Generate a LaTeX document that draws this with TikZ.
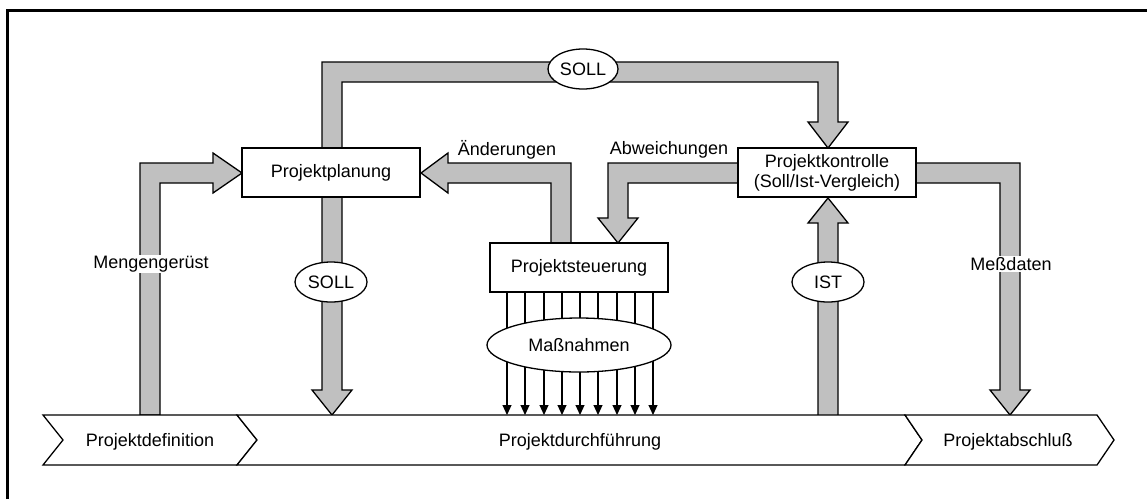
\documentclass[tikz,border=0pt]{standalone}
\usepackage{fontspec}
\setmainfont{Liberation Sans}
\usetikzlibrary{shapes.geometric,arrows.meta,calc}
\definecolor{band}{HTML}{C0C0C0}
\tikzset{
  fat/.style={fill=band,draw=black,line width=1.3pt,line join=miter},
  boxn/.style={draw=black,fill=white,line width=1.3pt,rectangle,inner sep=0pt,align=center},
  ell/.style={draw=black,fill=white,line width=1.3pt,ellipse,inner sep=0pt},
  phase/.style={draw=black,fill=white,line width=1.3pt,line join=miter},
  lbl/.style={inner sep=1pt,fill=white},
  thin/.style={line width=1.1pt,-{Triangle[width=9pt,length=10pt]}},
  every node/.style={font=\fontsize{18}{20}\selectfont}
}
\begin{document}
\begin{tikzpicture}[x=1pt,y=-1pt]
\useasboundingbox (0,0) rectangle (1147,499);
\draw[line width=3pt] (7,499) -- (7,10) -- (1147,10);

% fat arrows
\draw[fat] (140,415) -- (140,163) -- (213,163) -- (213,153) -- (242,173) -- (213,193) -- (213,183) -- (160,183) -- (160,415) -- cycle;
\draw[fat] (322,170) -- (322,62) -- (838,62) -- (838,122) -- (848,122) -- (828,148) -- (808,122) -- (818,122) -- (818,82) -- (342,82) -- (342,170) -- cycle;
\draw[fat] (322,190) -- (322,390) -- (312,390) -- (332,415) -- (352,390) -- (342,390) -- (342,190) -- cycle;
\draw[fat] (551,250) -- (551,183) -- (448,183) -- (448,193) -- (421,173) -- (448,153) -- (448,163) -- (571,163) -- (571,250) -- cycle;
\draw[fat] (740,163) -- (608,163) -- (608,218) -- (598,218) -- (618,243) -- (638,218) -- (628,218) -- (628,183) -- (740,183) -- cycle;
\draw[fat] (910,163) -- (1020,163) -- (1020,390) -- (1030,390) -- (1010,415) -- (990,390) -- (1000,390) -- (1000,183) -- (910,183) -- cycle;
\draw[fat] (818,420) -- (818,223) -- (808,223) -- (828,198) -- (848,223) -- (838,223) -- (838,420) -- cycle;

% boxes
\node[boxn,minimum width=178pt,minimum height=49pt] (plan) at (331,172.5) {Projektplanung};
\node[boxn,minimum width=178pt,minimum height=49pt] (kontr) at (827,172.5) {Projektkontrolle\\(Soll/Ist-Vergleich)};
\node[boxn,minimum width=178pt,minimum height=49pt] (steu) at (579,267.5) {Projektsteuerung};

% phases
\draw[phase] (43,415) -- (237,415) -- (257,440) -- (237,465) -- (43,465) -- (63,440) -- cycle;
\draw[phase] (237,415) -- (905,415) -- (922,440) -- (905,465) -- (237,465) -- (257,440) -- cycle;
\draw[phase] (905,415) -- (1097,415) -- (1114,440) -- (1097,465) -- (905,465) -- (922,440) -- cycle;
\node (def) at (150,442) {Projektdefinition};
\node (dur) at (580,442) {Projektdurchführung};
\node (abs) at (1008,442) {Projektabschluß};
\coordinate (durtop) at (579,415);

% thin arrows
\foreach \dx in {-72,-54,-35,-17,1,19,38,56,74}{
  \draw[thin] ($(steu.south)+(\dx,0)$) -- ($(durtop)+(\dx,0)$);
}
\node[ell,minimum width=184pt,minimum height=54pt] (mass) at (579,345) {Maßnahmen};

% ellipses
\node[ell,minimum width=70pt,minimum height=40pt] (soll1) at (583,69) {SOLL};
\node[ell,minimum width=72pt,minimum height=40pt] (soll2) at (331,282) {SOLL};
\node[ell,minimum width=72pt,minimum height=40pt] (ist) at (828,282) {IST};

% labels
\node[lbl] (meng) at (151,264) {Mengengerüst};
\node[lbl] (mess) at (1011,264) {Meßdaten};
\node (aend) at (507,150) {Änderungen};
\node (abw) at (669,150) {Abweichungen};
\end{tikzpicture}
\end{document}
